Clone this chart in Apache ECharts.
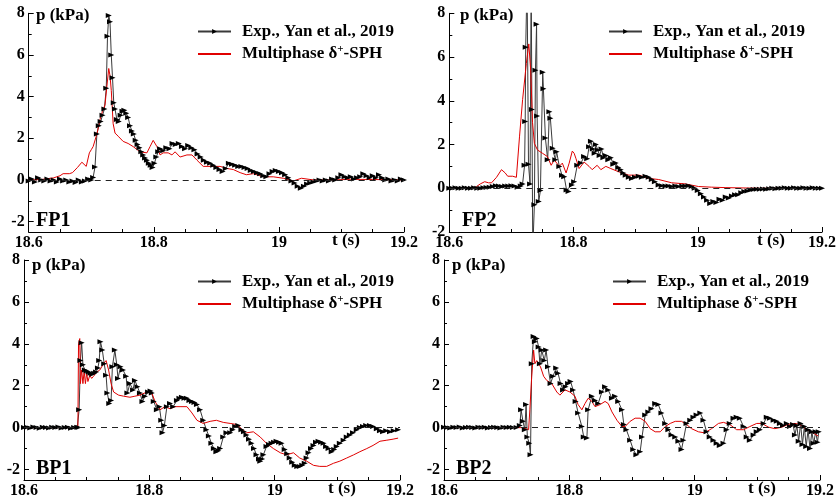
<!DOCTYPE html>
<html>
<head>
<meta charset="utf-8">
<script src="https://cdn.jsdelivr.net/npm/echarts@6/dist/echarts.min.js"></script>
<style>
  html, body { margin: 0; padding: 0; background: #fff; }
  #chart { width: 839px; height: 500px; }
</style>
</head>
<body>
<div id="chart"></div>
<script>
// ---- data: [t (s), p (kPa)] ----
var expName = 'Exp., Yan et al., 2019';
var simName = 'Multiphase δ+-SPH';
var panelNames = ['FP1', 'FP2', 'BP1', 'BP2'];
var xTicks = [18.6, 18.8, 19, 19.2];
var yTicks = [-2, 0, 2, 4, 6, 8];
var yMinorTicks = [-1, 1, 3, 5, 7];

var fp1Exp = [[18.600,-0.05],[18.605,0.05],[18.610,-0.10],[18.615,0.10],[18.620,0.00],[18.625,-0.05],[18.630,0.05],[18.635,-0.05],[18.640,0.00],[18.645,-0.10],[18.650,0.05],[18.655,-0.05],[18.660,0.00],[18.665,-0.10],[18.670,-0.05],[18.675,-0.12],[18.680,0.00],[18.685,-0.10],[18.690,-0.05],[18.695,0.05],[18.700,0.00],[18.703,0.12],[18.706,0.62],[18.709,2.20],[18.712,2.60],[18.715,2.80],[18.718,3.10],[18.721,3.40],[18.724,4.40],[18.726,6.90],[18.728,7.90],[18.730,7.60],[18.732,6.00],[18.734,4.90],[18.736,3.70],[18.738,3.40],[18.741,2.90],[18.744,2.80],[18.747,3.10],[18.750,3.30],[18.753,3.35],[18.756,3.20],[18.759,3.00],[18.762,2.60],[18.765,2.35],[18.768,2.20],[18.771,1.90],[18.774,1.70],[18.777,1.55],[18.780,1.35],[18.783,1.20],[18.786,1.05],[18.789,0.95],[18.792,0.80],[18.795,0.70],[18.798,0.60],[18.801,0.80],[18.804,1.10],[18.807,1.35],[18.810,1.50],[18.815,1.40],[18.820,1.55],[18.825,1.50],[18.830,1.75],[18.835,1.70],[18.840,1.75],[18.845,1.60],[18.850,1.50],[18.855,1.65],[18.860,1.55],[18.865,1.45],[18.870,1.25],[18.875,1.10],[18.880,0.95],[18.885,0.85],[18.890,0.80],[18.895,0.70],[18.900,0.60],[18.905,0.50],[18.910,0.40],[18.915,0.55],[18.920,0.80],[18.925,0.75],[18.930,0.70],[18.935,0.65],[18.940,0.65],[18.945,0.60],[18.950,0.55],[18.955,0.45],[18.960,0.40],[18.965,0.35],[18.970,0.30],[18.975,0.20],[18.980,0.15],[18.985,0.30],[18.990,0.40],[18.995,0.45],[19.000,0.40],[19.005,0.35],[19.010,0.25],[19.015,0.10],[19.020,-0.05],[19.025,-0.15],[19.030,-0.30],[19.035,-0.40],[19.040,-0.30],[19.045,-0.20],[19.050,-0.15],[19.055,-0.10],[19.060,-0.05],[19.065,0.00],[19.070,-0.05],[19.075,0.00],[19.080,-0.05],[19.085,0.05],[19.090,0.00],[19.095,0.10],[19.100,0.25],[19.105,0.15],[19.110,0.10],[19.115,0.15],[19.120,0.05],[19.125,0.10],[19.130,0.15],[19.135,0.30],[19.140,0.20],[19.145,0.10],[19.150,0.20],[19.155,0.10],[19.160,0.25],[19.165,0.10],[19.170,0.00],[19.175,0.05],[19.180,-0.05],[19.185,0.00],[19.190,-0.05],[19.195,0.05],[19.200,0.00]];

var fp1Sim = [[18.600,0.00],[18.620,0.02],[18.640,0.10],[18.650,0.20],[18.655,0.30],[18.665,0.30],[18.670,0.35],[18.678,0.60],[18.685,0.85],[18.692,0.65],[18.697,1.30],[18.700,1.45],[18.703,1.60],[18.709,2.20],[18.714,2.90],[18.718,3.30],[18.722,3.60],[18.725,4.50],[18.728,5.35],[18.730,5.00],[18.732,4.30],[18.735,2.70],[18.738,2.25],[18.743,2.10],[18.751,1.85],[18.759,1.75],[18.767,1.60],[18.778,1.35],[18.789,1.30],[18.794,1.60],[18.799,1.90],[18.802,1.85],[18.805,1.60],[18.810,1.20],[18.815,1.30],[18.823,1.30],[18.829,1.20],[18.834,1.35],[18.842,1.10],[18.853,1.20],[18.861,1.20],[18.869,0.95],[18.879,0.65],[18.890,0.65],[18.906,0.65],[18.917,0.55],[18.927,0.50],[18.938,0.35],[18.948,0.25],[18.959,0.30],[18.975,0.15],[18.991,0.15],[19.007,0.08],[19.023,-0.05],[19.036,0.08],[19.055,0.00],[19.087,0.00],[19.114,0.03],[19.150,0.02],[19.200,0.00]];

var fp2Exp = [[18.600,0.00],[18.605,0.00],[18.610,0.02],[18.615,0.00],[18.620,0.00],[18.625,0.02],[18.630,0.00],[18.635,0.00],[18.640,0.02],[18.645,0.00],[18.650,0.00],[18.655,0.02],[18.660,0.03],[18.665,0.05],[18.670,0.08],[18.675,0.12],[18.680,0.10],[18.685,0.08],[18.690,0.10],[18.695,0.10],[18.700,0.12],[18.705,0.10],[18.710,0.05],[18.715,0.10],[18.718,0.20],[18.7212,1.05],[18.7222,3.05],[18.7230,6.45],[18.7252,9.50],[18.7275,1.10],[18.7300,0.20],[18.7318,9.50],[18.7330,3.60],[18.7344,-2.80],[18.7370,-0.75],[18.7387,5.40],[18.7405,7.50],[18.7414,3.30],[18.7440,-0.60],[18.7467,-0.10],[18.7504,5.30],[18.7515,4.55],[18.7547,2.30],[18.7584,1.30],[18.7611,3.50],[18.7627,3.20],[18.7664,1.83],[18.7707,1.30],[18.7728,1.67],[18.7771,1.00],[18.7814,0.60],[18.7850,0.53],[18.7888,-0.08],[18.7920,-0.15],[18.7974,0.15],[18.801,0.30],[18.806,1.05],[18.812,1.15],[18.817,1.45],[18.822,1.35],[18.825,1.90],[18.828,2.15],[18.831,1.80],[18.834,1.60],[18.836,2.00],[18.839,1.75],[18.842,1.50],[18.845,1.80],[18.848,1.40],[18.852,1.50],[18.856,1.30],[18.860,1.40],[18.864,1.10],[18.868,1.15],[18.872,0.95],[18.876,0.85],[18.880,0.70],[18.884,0.60],[18.889,0.50],[18.894,0.45],[18.899,0.50],[18.905,0.55],[18.910,0.50],[18.916,0.55],[18.921,0.50],[18.926,0.40],[18.931,0.30],[18.937,0.15],[18.942,0.12],[18.948,0.10],[18.953,0.10],[18.958,0.08],[18.964,0.10],[18.969,0.08],[18.975,0.10],[18.980,0.10],[18.985,0.12],[18.990,0.08],[18.995,0.00],[19.000,-0.10],[19.005,-0.25],[19.010,-0.40],[19.015,-0.55],[19.020,-0.70],[19.025,-0.60],[19.030,-0.65],[19.035,-0.50],[19.040,-0.55],[19.045,-0.40],[19.050,-0.45],[19.055,-0.35],[19.060,-0.30],[19.065,-0.30],[19.070,-0.20],[19.075,-0.15],[19.080,-0.12],[19.085,-0.08],[19.090,-0.06],[19.095,-0.05],[19.100,-0.05],[19.105,-0.03],[19.110,-0.05],[19.115,-0.02],[19.120,0.00],[19.125,-0.02],[19.130,0.00],[19.135,0.00],[19.140,0.02],[19.145,0.00],[19.150,0.00],[19.155,0.02],[19.160,0.00],[19.165,0.00],[19.170,0.02],[19.175,0.00],[19.180,0.00],[19.185,0.02],[19.190,0.00],[19.195,0.00],[19.200,0.00]];

var fp2Sim = [[18.600,0.00],[18.640,0.00],[18.644,0.08],[18.650,0.20],[18.657,0.30],[18.663,0.25],[18.668,0.25],[18.676,0.50],[18.684,0.85],[18.690,0.70],[18.694,0.55],[18.702,0.55],[18.708,0.50],[18.711,0.55],[18.713,2.35],[18.718,4.05],[18.724,5.70],[18.728,6.60],[18.731,5.40],[18.734,3.00],[18.737,2.05],[18.742,1.75],[18.750,1.60],[18.758,1.45],[18.764,1.05],[18.769,1.30],[18.777,1.00],[18.782,1.15],[18.788,0.70],[18.793,1.15],[18.798,1.70],[18.801,1.60],[18.804,1.35],[18.809,0.90],[18.817,1.20],[18.825,1.00],[18.830,0.85],[18.838,1.05],[18.844,0.85],[18.852,1.00],[18.860,0.90],[18.873,0.75],[18.889,0.60],[18.905,0.60],[18.921,0.45],[18.937,0.40],[18.958,0.25],[18.980,0.20],[19.001,0.08],[19.022,0.05],[19.044,0.03],[19.100,0.00],[19.200,0.00]];

var bp1Exp = [[18.600,0.00],[18.605,0.02],[18.610,-0.02],[18.615,0.03],[18.620,0.00],[18.625,-0.03],[18.630,0.02],[18.635,0.00],[18.640,-0.02],[18.645,0.02],[18.650,0.00],[18.655,0.03],[18.660,-0.02],[18.665,0.00],[18.670,0.02],[18.675,-0.03],[18.680,0.00],[18.685,0.02],[18.687,0.00],[18.688,0.85],[18.690,3.20],[18.692,4.05],[18.694,3.00],[18.697,2.75],[18.700,2.70],[18.703,2.65],[18.706,2.60],[18.709,2.55],[18.712,2.60],[18.715,2.65],[18.718,2.85],[18.720,3.20],[18.722,4.10],[18.725,3.70],[18.728,3.05],[18.731,2.50],[18.733,1.65],[18.736,1.15],[18.739,1.30],[18.741,2.90],[18.745,3.70],[18.748,3.00],[18.750,2.35],[18.754,2.90],[18.758,2.75],[18.763,2.45],[18.765,1.65],[18.769,2.10],[18.774,1.80],[18.777,2.25],[18.781,1.95],[18.785,1.65],[18.789,1.25],[18.793,1.50],[18.798,1.70],[18.802,1.75],[18.804,1.65],[18.807,1.25],[18.812,0.85],[18.816,1.00],[18.819,0.35],[18.821,-0.25],[18.824,0.10],[18.828,1.00],[18.833,1.15],[18.838,1.00],[18.844,1.30],[18.848,1.40],[18.852,1.45],[18.856,1.40],[18.860,1.40],[18.864,1.30],[18.868,1.25],[18.872,1.20],[18.876,1.10],[18.881,0.85],[18.886,0.35],[18.891,-0.10],[18.895,-0.40],[18.899,-0.75],[18.903,-1.00],[18.907,-1.15],[18.910,-1.10],[18.913,-1.00],[18.918,-0.45],[18.923,-0.25],[18.929,-0.25],[18.933,-0.10],[18.937,0.05],[18.942,0.10],[18.947,-0.10],[18.951,-0.20],[18.955,-0.35],[18.959,-0.55],[18.963,-0.75],[18.967,-1.00],[18.971,-1.30],[18.975,-1.50],[18.977,-1.60],[18.980,-1.50],[18.982,-1.30],[18.987,-0.90],[18.991,-0.80],[18.995,-0.75],[18.999,-0.70],[19.003,-0.65],[19.007,-0.70],[19.011,-0.75],[19.016,-1.05],[19.020,-1.25],[19.024,-1.45],[19.028,-1.65],[19.032,-1.80],[19.036,-1.85],[19.040,-1.85],[19.044,-1.80],[19.048,-1.70],[19.051,-1.45],[19.054,-1.20],[19.058,-1.00],[19.062,-0.85],[19.066,-0.70],[19.070,-0.65],[19.074,-0.70],[19.078,-0.75],[19.082,-0.90],[19.086,-1.00],[19.091,-1.15],[19.095,-1.05],[19.099,-0.90],[19.104,-0.75],[19.110,-0.60],[19.115,-0.45],[19.120,-0.35],[19.125,-0.25],[19.131,-0.10],[19.136,0.00],[19.141,0.05],[19.146,0.10],[19.152,0.10],[19.157,0.05],[19.163,-0.05],[19.168,-0.15],[19.173,-0.20],[19.178,-0.15],[19.184,-0.20],[19.190,-0.15],[19.197,-0.10]];

var bp1Sim = [[18.600,0.00],[18.686,0.00],[18.687,4.00],[18.689,4.25],[18.690,2.10],[18.692,2.75],[18.694,2.10],[18.696,2.70],[18.698,2.10],[18.700,2.60],[18.702,2.20],[18.705,2.50],[18.708,2.35],[18.711,2.45],[18.716,2.65],[18.721,2.75],[18.727,3.05],[18.731,3.20],[18.735,2.75],[18.739,2.10],[18.743,1.70],[18.751,1.55],[18.759,1.50],[18.769,1.45],[18.777,1.50],[18.785,1.55],[18.796,1.70],[18.804,1.65],[18.809,1.25],[18.817,0.85],[18.825,1.00],[18.833,0.90],[18.841,1.00],[18.849,1.00],[18.860,1.00],[18.868,0.70],[18.876,0.35],[18.886,0.20],[18.897,0.30],[18.907,0.35],[18.918,0.25],[18.929,0.20],[18.939,0.15],[18.947,-0.05],[18.955,-0.25],[18.966,-0.20],[18.977,-0.45],[18.987,-0.75],[18.998,-1.00],[19.009,-1.20],[19.019,-1.30],[19.030,-1.20],[19.040,-1.45],[19.051,-1.60],[19.062,-1.80],[19.072,-1.85],[19.083,-1.85],[19.094,-1.70],[19.104,-1.60],[19.115,-1.45],[19.126,-1.30],[19.136,-1.15],[19.147,-1.00],[19.157,-0.85],[19.168,-0.65],[19.179,-0.60],[19.189,-0.55],[19.197,-0.50]];

var bp2Exp = [[18.600,0.02],[18.605,0.00],[18.610,-0.02],[18.615,0.02],[18.620,0.00],[18.625,0.03],[18.630,-0.02],[18.635,0.00],[18.640,0.02],[18.645,0.00],[18.650,-0.02],[18.655,0.02],[18.660,0.00],[18.665,0.02],[18.670,-0.02],[18.675,0.00],[18.680,0.02],[18.685,0.00],[18.690,-0.02],[18.695,0.02],[18.700,0.00],[18.705,0.02],[18.710,0.00],[18.716,0.00],[18.721,0.10],[18.723,0.85],[18.726,0.30],[18.729,-0.10],[18.731,1.10],[18.733,-0.45],[18.736,-0.75],[18.738,-1.30],[18.740,3.05],[18.743,4.35],[18.745,4.10],[18.748,4.25],[18.751,3.85],[18.753,3.05],[18.756,3.70],[18.760,3.20],[18.763,3.70],[18.766,2.90],[18.770,2.10],[18.774,2.45],[18.779,2.85],[18.782,2.60],[18.786,2.10],[18.790,1.80],[18.794,1.95],[18.798,2.10],[18.802,2.20],[18.806,1.80],[18.810,1.25],[18.814,0.70],[18.820,0.05],[18.823,-0.45],[18.828,-0.50],[18.830,0.85],[18.836,1.50],[18.841,1.30],[18.846,1.15],[18.852,1.70],[18.857,1.95],[18.862,1.80],[18.868,1.40],[18.873,1.50],[18.878,1.25],[18.884,0.85],[18.887,0.15],[18.891,-0.10],[18.897,-0.60],[18.902,-1.05],[18.907,-1.30],[18.913,-1.15],[18.916,-0.45],[18.921,0.60],[18.926,0.75],[18.931,0.90],[18.937,1.15],[18.942,1.10],[18.947,0.70],[18.953,0.20],[18.958,-0.10],[18.963,-0.35],[18.969,-0.45],[18.974,-0.65],[18.979,-1.05],[18.982,-0.60],[18.987,0.20],[18.993,0.35],[18.998,0.50],[19.003,0.60],[19.009,0.70],[19.014,0.35],[19.019,-0.20],[19.024,-0.45],[19.030,-0.60],[19.035,-0.75],[19.040,-0.85],[19.046,-0.75],[19.051,-0.10],[19.056,0.20],[19.062,0.45],[19.067,0.50],[19.072,0.45],[19.078,0.05],[19.083,-0.45],[19.088,-0.60],[19.094,-0.35],[19.099,-0.20],[19.104,-0.10],[19.110,0.20],[19.115,0.50],[19.120,0.45],[19.126,0.35],[19.131,0.30],[19.136,0.20],[19.141,0.10],[19.147,0.20],[19.152,0.05],[19.157,0.15],[19.160,-0.35],[19.163,0.10],[19.166,-0.65],[19.169,0.20],[19.172,-0.80],[19.175,0.05],[19.178,-0.90],[19.181,-0.10],[19.184,-1.00],[19.187,-0.20],[19.190,-0.75],[19.193,-0.20],[19.196,-0.70],[19.198,-0.20]];

var bp2Sim = [[18.600,0.00],[18.725,0.00],[18.735,-0.10],[18.737,0.85],[18.740,2.45],[18.743,3.70],[18.745,3.05],[18.748,3.20],[18.751,3.15],[18.754,2.90],[18.759,2.45],[18.764,2.25],[18.772,2.10],[18.780,1.70],[18.785,1.55],[18.793,1.80],[18.801,1.70],[18.809,1.50],[18.814,1.10],[18.820,0.85],[18.825,1.15],[18.830,1.40],[18.836,1.25],[18.841,1.00],[18.849,1.10],[18.857,1.25],[18.862,1.15],[18.868,0.75],[18.876,0.35],[18.884,0.05],[18.889,0.05],[18.897,0.30],[18.905,0.45],[18.913,0.45],[18.921,0.30],[18.929,-0.05],[18.937,-0.20],[18.945,-0.20],[18.953,0.05],[18.961,0.20],[18.969,0.30],[18.979,0.30],[18.987,0.15],[18.995,-0.05],[19.006,-0.20],[19.016,-0.25],[19.027,-0.05],[19.038,0.20],[19.046,0.25],[19.056,0.15],[19.067,-0.10],[19.078,-0.10],[19.088,0.05],[19.099,0.20],[19.107,0.20],[19.118,0.02],[19.128,-0.05],[19.139,0.02],[19.149,0.15],[19.160,0.20],[19.168,0.15],[19.179,-0.10],[19.189,-0.25],[19.197,-0.40]];

var expData = [fp1Exp, fp2Exp, bp1Exp, bp2Exp];
var simData = [fp1Sim, fp2Sim, bp1Sim, bp2Sim];
var yMins = [-2.5, -2, -2.5, -2.5];

// ---- layout ----
var font = '"Liberation Serif", "Times New Roman", serif';
var grids = [
	{ left: 28.7, top: 13.3, width: 375.3, height: 218.7 },
	{ left: 449.3, top: 13.3, width: 375, height: 218.7 },
	{ left: 24, top: 260, width: 376, height: 220 },
	{ left: 444, top: 260, width: 376, height: 220 }
];
var legendPos = [[197, 23], [608, 23], [197, 273], [612, 273]];
var pLabelPos = [[36, 16], [460, 16], [32, 266], [452, 266]];
var tLabelPos = [[332, 241], [757, 241], [328, 489], [748, 489]];
var nameLabelPos = [[36, 221], [462, 221], [36, 469], [456, 469]];

var myChart = echarts.init(document.getElementById('chart'));

var xAxes = [], yAxes = [], series = [], legends = [], graphics = [];
for (var i = 0; i < 4; i++) {
	xAxes.push({
		type: 'value', gridIndex: i, position: 'bottom', min: 18.6, max: 19.2, interval: 0.2,
		axisLine: { show: true, onZero: false, lineStyle: { color: '#000', width: 1 } },
		axisTick: { show: true, inside: true, length: 5, lineStyle: { color: '#000' } },
		minorTick: { show: true, splitNumber: 4, length: 3, lineStyle: { color: '#000' } },
		axisLabel: { color: '#000', fontFamily: font, fontWeight: 'bold', fontSize: 16, margin: 3 },
		splitLine: { show: false }
	});
}
for (var i = 0; i < 4; i++) {
	yAxes.push({
		type: 'value', gridIndex: i, position: 'left', min: yMins[i], max: 8,
		axisLine: { show: true, onZero: false, lineStyle: { color: '#000', width: 1 } },
		axisTick: { show: true, inside: true, length: 5, customValues: yTicks, lineStyle: { color: '#000' } },
		axisLabel: { color: '#000', fontFamily: font, fontWeight: 'bold', fontSize: 16, margin: 4, customValues: yTicks },
		splitLine: { show: false }
	});
}
// second y axis on each grid only for the minor ticks
for (var i = 0; i < 4; i++) {
	yAxes.push({
		type: 'value', gridIndex: i, position: 'left', offset: 0, min: yMins[i], max: 8,
		axisLine: { show: false, onZero: false },
		axisTick: { show: true, inside: true, length: 3, customValues: yMinorTicks, lineStyle: { color: '#000' } },
		axisLabel: { show: false },
		splitLine: { show: false }
	});
}

for (var i = 0; i < 4; i++) {
	series.push({
		name: expName, type: 'line', xAxisIndex: i, yAxisIndex: i,
		data: expData[i],
		symbol: 'triangle', symbolSize: [5, 6], symbolRotate: -90, showAllSymbol: true,
		lineStyle: { color: '#3a3a3a', width: 1 },
		itemStyle: { color: '#000' },
		animation: false,
		markLine: {
			silent: true, symbol: 'none', label: { show: false },
			lineStyle: { color: '#222', type: [6, 5], width: 1 },
			data: [{ yAxis: 0 }]
		}
	});
	series.push({
		name: simName, type: 'line', xAxisIndex: i, yAxisIndex: i,
		data: simData[i],
		symbol: 'none',
		lineStyle: { color: '#e00000', width: 1 },
		itemStyle: { color: '#e00000' },
		animation: false
	});

	legends.push({
		data: [expName, { name: simName, itemStyle: { opacity: 0 } }],
		orient: 'vertical', left: legendPos[i][0], top: legendPos[i][1],
		padding: 0, itemGap: 4, itemWidth: 33, itemHeight: 6,
		selectedMode: false,
		formatter: function (name) {
			if (name === simName) return '{t|Multiphase δ}{s|+}{t|-SPH}';
			return '{t|' + name + '}';
		},
		textStyle: {
			padding: [0, 0, 0, 6],
			rich: {
				t: { fontFamily: font, fontWeight: 'bold', fontSize: 17, color: '#000', lineHeight: 20 },
				s: { fontFamily: font, fontWeight: 'bold', fontSize: 11, color: '#000', verticalAlign: 'top', lineHeight: 20 }
			}
		}
	});

	graphics.push({
		type: 'text', x: pLabelPos[i][0], y: pLabelPos[i][1],
		style: { text: 'p (kPa)', font: 'bold 17px ' + font, fill: '#000', verticalAlign: 'middle' }
	});
	graphics.push({
		type: 'text', x: tLabelPos[i][0], y: tLabelPos[i][1],
		style: { text: 't (s)', font: 'bold 17px ' + font, fill: '#000', verticalAlign: 'middle' }
	});
	graphics.push({
		type: 'text', x: nameLabelPos[i][0], y: nameLabelPos[i][1],
		style: { text: panelNames[i], font: 'bold 20px ' + font, fill: '#000', verticalAlign: 'middle' }
	});
}

var option = {
	backgroundColor: '#fff',
	animation: false,
	grid: grids,
	xAxis: xAxes,
	yAxis: yAxes,
	legend: legends,
	series: series,
	graphic: graphics
};
myChart.setOption(option, true);
</script>
</body>
</html>
